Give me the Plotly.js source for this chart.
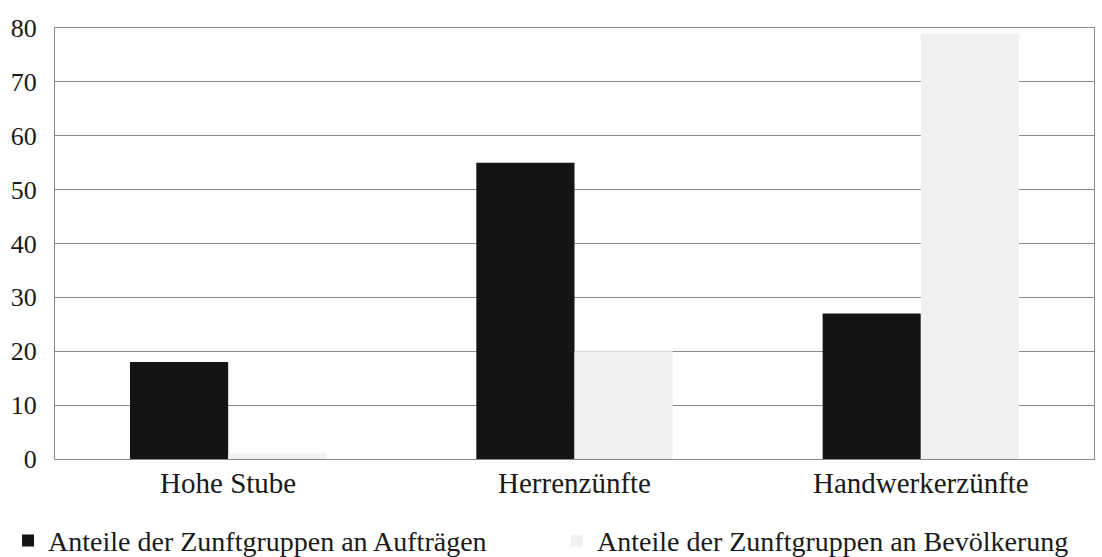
<!DOCTYPE html>
<html>
<head>
<meta charset="utf-8">
<script src="https://cdn.plot.ly/plotly-3.0.1.min.js"></script>
<style>html,body{margin:0;padding:0;background:#fff;}#chart{width:1102px;height:557px;}</style>
</head>
<body>
<div id="chart"></div>
<script>
const categories = ["Hohe Stube", "Herrenzünfte", "Handwerkerzünfte"];
const auftraege = [18, 55, 27];
const bevoelkerung = [1, 20, 79];
const seriesNames = ["Anteile der Zunftgruppen an Aufträgen", "Anteile der Zunftgruppen an Bevölkerung"];
const yTicks = [0, 10, 20, 30, 40, 50, 60, 70, 80];

const fam = "Liberation Serif, Times New Roman, serif";
const yFont = {family: fam, size: 26, color: "#1a1a1a"};
const xFont = {family: fam, size: 29, color: "#1a1a1a"};
const legFont = {family: fam, size: 28, color: "#1a1a1a"};

const data = [
  {type: "bar", x: categories, y: auftraege, name: seriesNames[0], legend: "legend",
   marker: {color: "#141414"}},
  {type: "bar", x: categories, y: bevoelkerung, name: seriesNames[1], legend: "legend2",
   marker: {color: "#f1f1f1"}}
];

const legBase = {orientation: "h", xanchor: "left", xref: "container", yref: "container",
                 y: 0.029, yanchor: "middle", bgcolor: "rgba(0,0,0,0)", font: legFont, itemwidth: 30};

const layout = {
  width: 1102, height: 557,
  margin: {l: 55, r: 8, t: 28, b: 98},
  paper_bgcolor: "#fff", plot_bgcolor: "#fff",
  font: yFont,
  barmode: "group",
  bargap: 0.433,
  bargroupgap: 0,
  showlegend: true,
  legend: Object.assign({}, legBase, {x: 0.0073}),
  legend2: Object.assign({}, legBase, {x: 0.5055}),
  xaxis: {type: "category", showgrid: false, showline: true, linecolor: "#888", linewidth: 1,
          mirror: true, ticks: "", ticklabelstandoff: -2, tickfont: xFont},
  yaxis: {range: [0, 80], tickvals: yTicks, showgrid: true, gridcolor: "#888", gridwidth: 1,
          showline: true, linecolor: "#888", linewidth: 1, mirror: true, zeroline: false,
          ticks: "", ticklabelstandoff: 12, tickfont: yFont}
};

Plotly.newPlot("chart", data, layout, {displayModeBar: false, staticPlot: true});
</script>
</body>
</html>
